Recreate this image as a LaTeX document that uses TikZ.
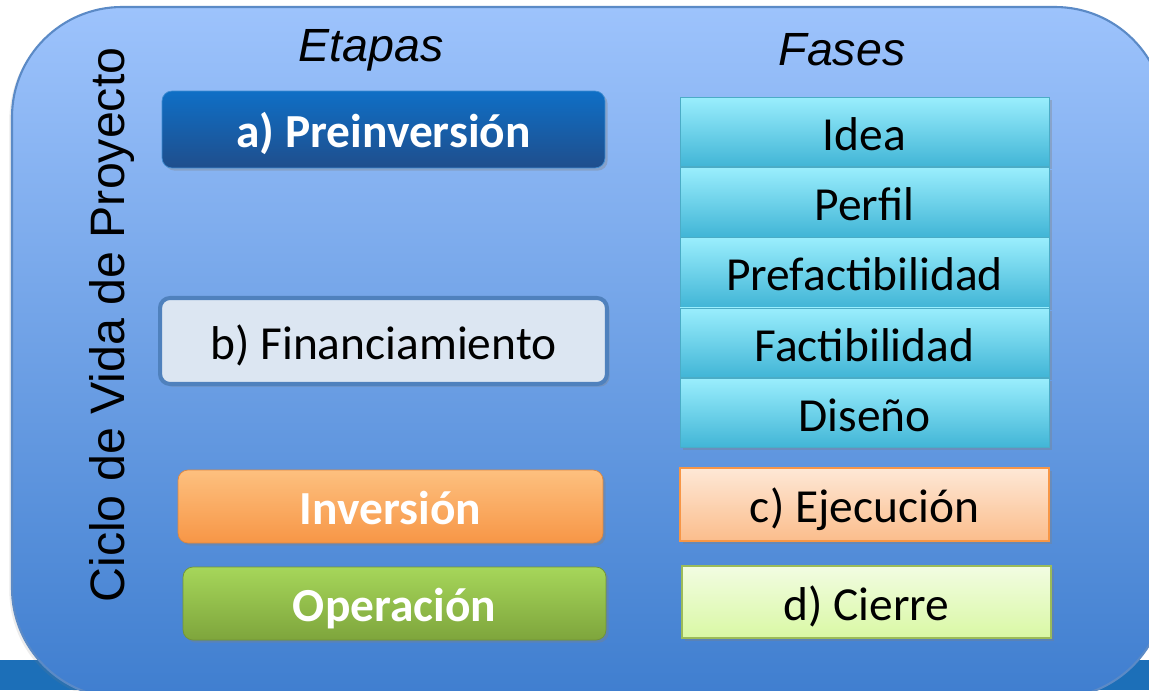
\documentclass[tikz,border=0pt]{standalone}
\usepackage{fontspec}
\setmainfont{Carlito}
\newfontfamily\arialfont{Liberation Sans}
\usetikzlibrary{positioning,shadows}

\definecolor{panelTop}{HTML}{9DC3FC}
\definecolor{panelBot}{HTML}{3F7ECF}
\definecolor{panelLine}{HTML}{5B8AC6}
\definecolor{stripBlue}{HTML}{1C6FB8}
\definecolor{preTop}{HTML}{0F6FC6}
\definecolor{preBot}{HTML}{1F4E8C}
\definecolor{finFill}{HTML}{DCE6F2}
\definecolor{finLine}{HTML}{4F81BD}
\definecolor{invTop}{HTML}{FDC07F}
\definecolor{invBot}{HTML}{F79646}
\definecolor{opeTop}{HTML}{A6D65A}
\definecolor{opeBot}{HTML}{7EA53C}
\definecolor{faseTop}{HTML}{9AEEFD}
\definecolor{faseBot}{HTML}{41B5D6}
\definecolor{faseLine}{HTML}{4BACC6}
\definecolor{ejeTop}{HTML}{FEE8D6}
\definecolor{ejeBot}{HTML}{FBBD8C}
\definecolor{cieTop}{HTML}{F2FCE2}
\definecolor{cieBot}{HTML}{D9F8A4}
\definecolor{cieLine}{HTML}{9BBB59}

\newcommand{\boxfont}{\fontsize{27}{30}\selectfont}

\begin{document}
\begin{tikzpicture}[x=0.02cm,y=-0.02cm,
    etapa/.style={rounded corners=0.2cm,inner sep=0pt,font=\boxfont,
      text height=23pt,text depth=2pt,
      drop shadow={shadow xshift=1.5pt,shadow yshift=-1.5pt,opacity=0.35}},
    fase/.style={rectangle,inner sep=0pt,font=\boxfont,minimum width=7.38cm,
      text height=23pt,text depth=2pt,
      drop shadow={shadow xshift=1.5pt,shadow yshift=-1.5pt,opacity=0.35}},
    titulo/.style={font=\arialfont\itshape\fontsize{26.5}{30}\selectfont}]
      \useasboundingbox (0,0) rectangle (1149,690);
      \clip (0,0) rectangle (1149,690);
      \fill[white] (0,0) rectangle (1149,690);
      \fill[stripBlue] (0,660) rectangle (1149,690);
      % panel
      \draw[panelLine,line width=1.2pt,top color=panelTop,bottom color=panelBot,
        rounded corners=2.2cm,
        drop shadow={shadow xshift=-1.5pt,shadow yshift=-1.5pt,opacity=0.15}]
        (12,7) rectangle (1165,698);
      \node[rotate=90,font=\arialfont\fontsize{27.5}{30}\selectfont] (ciclo) at (112,325) {Ciclo de Vida de Proyecto};
      \node[titulo] (etapas) at (371,50) {Etapas};
      \node[titulo] (fases) at (842,50) {Fases};
      % etapas
      \node[etapa,draw=preTop!80!white,top color=preTop,bottom color=preBot,text=white,
        minimum width=8.86cm,minimum height=1.54cm] (pre) at (383.5,129.5) {\bfseries a) Preinversión};
      \node[etapa,draw=finLine,line width=2.3pt,fill=finFill,
        minimum width=8.94cm,minimum height=1.72cm] (fin) at (383.5,341) {b) Financiamiento};
      \node[etapa,draw=invBot!90!black,top color=invTop,bottom color=invBot,text=white,
        minimum width=8.5cm,minimum height=1.46cm] (inv) at (390.5,506.5) {\bfseries Inversión};
      \node[etapa,draw=opeBot!90!black,top color=opeTop,bottom color=opeBot,text=white,
        minimum width=8.46cm,minimum height=1.46cm] (ope) at (394.5,603.5) {\bfseries Operación};
      % fases
      \node[fase,draw=faseLine,top color=faseTop,bottom color=faseBot,minimum height=1.392cm] (idea) at (864.5,131.8) {Idea};
      \node[fase,draw=faseLine,top color=faseTop,bottom color=faseBot,minimum height=1.392cm,below=0pt of idea] (perfil) {Perfil};
      \node[fase,draw=faseLine,top color=faseTop,bottom color=faseBot,minimum height=1.392cm,below=0pt of perfil] (prefac) {Prefactibilidad};
      \node[fase,draw=faseLine,top color=faseTop,bottom color=faseBot,minimum height=1.392cm,below=0pt of prefac] (factib) {Factibilidad};
      \node[fase,draw=faseLine,top color=faseTop,bottom color=faseBot,minimum height=1.392cm,below=0pt of factib] (diseno) {Diseño};
      \node[fase,draw=invBot,line width=1pt,top color=ejeTop,bottom color=ejeBot,minimum height=1.46cm] (eje) at (864.5,504.5) {c) Ejecución};
      \node[fase,draw=cieLine,line width=1.5pt,top color=cieTop,bottom color=cieBot,minimum height=1.44cm] (cie) at (866.5,602) {d) Cierre};
\end{tikzpicture}
\end{document}
